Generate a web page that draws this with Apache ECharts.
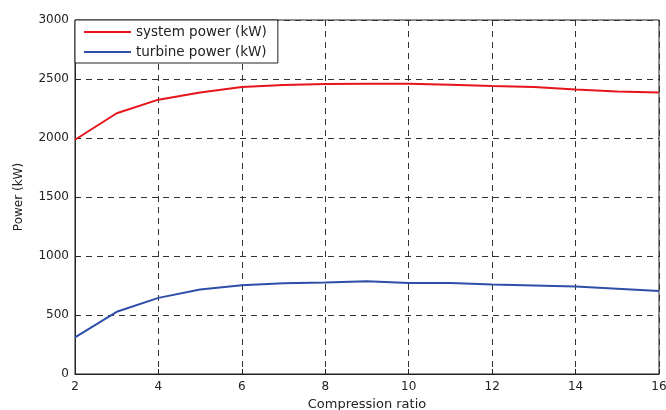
<!DOCTYPE html>
<html><head><meta charset="utf-8">
<script src="https://cdn.jsdelivr.net/npm/echarts@6/dist/echarts.min.js"></script>
<style>html,body{margin:0;padding:0;background:#fff}#c{width:666px;height:410px}</style>
</head><body><div id="c"></div>
<script>
const compressionRatio = [2,3,4,5,6,7,8,9,10,11,12,13,14,15,16];
const systemPower = [1985,2210,2325,2385,2432,2450,2457,2460,2460,2452,2440,2432,2412,2395,2386];
const turbinePower = [310,527,645,716,752,769,775,786,772,772,758,750,741,722,704];
const seriesNames = ['system power (kW)','turbine power (kW)'];
const xTicks = [2,4,6,8,10,12,14,16];
const yTicks = [0,500,1000,1500,2000,2500,3000];

const font = 'DejaVu Sans, sans-serif';
const pair = (xs, ys) => xs.map((x,i)=>[x, ys[i]]);
const chart = echarts.init(document.getElementById('c'));
const gridLine = {show:true, lineStyle:{color:'#333', type:[6,5], width:1}};
chart.setOption({
  animation:false,
  grid:{left:75, right:7, top:20, bottom:36, containLabel:false, outerBoundsMode:'none',
    show:true, borderColor:'#222', borderWidth:1, backgroundColor:'transparent'},
  legend:{
    orient:'vertical', left:75, top:20, padding:[5,11,4,9],
    backgroundColor:'#fff', borderColor:'#222', borderWidth:1,
    itemWidth:47, itemHeight:2, itemGap:6, icon:'rect',
    textStyle:{fontFamily:font, fontSize:13.5, color:'#222'},
    data:seriesNames
  },
  xAxis:{type:'value', min:xTicks[0], max:xTicks[xTicks.length-1], interval:2,
    name:'Compression ratio', nameLocation:'middle', nameGap:24,
    nameTextStyle:{fontFamily:font, fontSize:13, color:'#222', verticalAlign:'top'},
    axisLine:{show:true, lineStyle:{color:'#222'}},
    axisTick:{show:true, inside:true, length:5, lineStyle:{color:'#222'}},
    axisLabel:{fontFamily:font, fontSize:12, color:'#222', margin:7},
    splitLine:gridLine},
  yAxis:{type:'value', min:yTicks[0], max:yTicks[yTicks.length-1], interval:500,
    name:'Power (kW)', nameLocation:'middle', nameGap:50,
    nameTextStyle:{fontFamily:font, fontSize:12, color:'#222'},
    axisLine:{show:true, lineStyle:{color:'#222'}},
    axisTick:{show:true, inside:true, length:5, lineStyle:{color:'#222'}},
    axisLabel:{fontFamily:font, fontSize:12, color:'#222', margin:6, formatter:v=>String(v)},
    splitLine:gridLine},
  series:[
    {name:seriesNames[0], type:'line', data:pair(compressionRatio, systemPower), showSymbol:false, symbol:'none',
     lineStyle:{color:'#e8141c', width:2}, itemStyle:{color:'#e8141c'}},
    {name:seriesNames[1], type:'line', data:pair(compressionRatio, turbinePower), showSymbol:false, symbol:'none',
     lineStyle:{color:'#2e4fa8', width:2}, itemStyle:{color:'#2e4fa8'}}
  ]
});
</script></body></html>
